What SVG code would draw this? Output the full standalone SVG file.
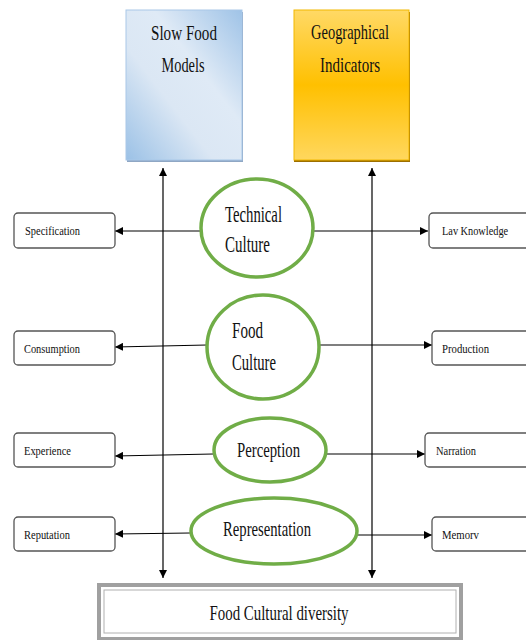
<svg xmlns="http://www.w3.org/2000/svg" width="526" height="640" viewBox="0 0 526 640">
<defs>
<linearGradient id="gBlue" x1="0" y1="1" x2="1" y2="0">
<stop offset="0" stop-color="#9bc1e6"/>
<stop offset="0.38" stop-color="#dbe7f4"/>
<stop offset="0.62" stop-color="#dfeaf6"/>
<stop offset="1" stop-color="#9fc3e7"/>
</linearGradient>
<linearGradient id="gGold" x1="0" y1="0" x2="0" y2="1">
<stop offset="0" stop-color="#ffd966"/>
<stop offset="0.5" stop-color="#ffc000"/>
<stop offset="1" stop-color="#ffd75e"/>
</linearGradient>
<marker id="ah" viewBox="0 0 10 10" refX="10" refY="5" markerWidth="8" markerHeight="8" markerUnits="userSpaceOnUse" orient="auto">
<path d="M0,0 L10,5 L0,10 z" fill="#000"/>
</marker>
<marker id="ahs" viewBox="0 0 10 10" refX="10" refY="5" markerWidth="8" markerHeight="8" markerUnits="userSpaceOnUse" orient="auto-start-reverse">
<path d="M0,0 L10,5 L0,10 z" fill="#000"/>
</marker>
</defs>
<style>
.big{font-family:"Liberation Serif","Times New Roman",serif;font-size:22px;fill:#111}
.bg{font-size:24px}
.sm{font-family:"Liberation Serif","Times New Roman",serif;font-size:13.5px;fill:#111}
.ell{fill:#fff;stroke:#70ad47;stroke-width:3.5}
.lbl{fill:#fff;stroke:#555;stroke-width:1.3}
.cn{stroke:#000;stroke-width:1.2;fill:none}
</style>
<g id="connectors">
<line class="cn" x1="163" y1="168" x2="163" y2="578" marker-start="url(#ahs)" marker-end="url(#ah)"/>
<line class="cn" x1="372" y1="168" x2="372" y2="578" marker-start="url(#ahs)" marker-end="url(#ah)"/>
<line class="cn" x1="201" y1="231" x2="115" y2="231" marker-end="url(#ah)"/>
<line class="cn" x1="313" y1="231" x2="428" y2="231" marker-end="url(#ah)"/>
<line class="cn" x1="207" y1="345" x2="115" y2="347" marker-end="url(#ah)"/>
<line class="cn" x1="320" y1="345" x2="432" y2="345" marker-end="url(#ah)"/>
<line class="cn" x1="213" y1="454" x2="115" y2="456" marker-end="url(#ah)"/>
<line class="cn" x1="326" y1="454" x2="425" y2="454" marker-end="url(#ah)"/>
<line class="cn" x1="190" y1="533" x2="115" y2="534" marker-end="url(#ah)"/>
<line class="cn" x1="358" y1="535" x2="432" y2="535" marker-end="url(#ah)"/>
</g>
<g id="slow-food">
<rect x="127" y="12" width="116" height="150" fill="#8fa7c4"/>
<rect x="126" y="10" width="116" height="150" fill="url(#gBlue)" stroke="#a9c8e8" stroke-width="1"/>
<text class="big" x="184" y="40" text-anchor="middle" textLength="66" lengthAdjust="spacingAndGlyphs">Slow Food</text>
<text class="big" x="183" y="72" text-anchor="middle" textLength="43" lengthAdjust="spacingAndGlyphs">Models</text>
</g>
<g id="geo">
<rect x="294" y="12" width="116" height="150" fill="#9c6f00"/>
<rect x="294" y="10" width="115" height="150" fill="url(#gGold)" stroke="#f2b800" stroke-width="1"/>
<text class="big" x="350" y="39" text-anchor="middle" textLength="78" lengthAdjust="spacingAndGlyphs">Geographical</text>
<text class="big" x="350" y="72" text-anchor="middle" textLength="60" lengthAdjust="spacingAndGlyphs">Indicators</text>
</g>
<g id="technical-culture">
<ellipse class="ell" cx="257" cy="228" rx="56" ry="49"/>
<text class="big bg" x="225" y="222" textLength="57" lengthAdjust="spacingAndGlyphs">Technical</text>
<text class="big bg" x="225" y="252" textLength="45" lengthAdjust="spacingAndGlyphs">Culture</text>
</g>
<g id="food-culture">
<ellipse class="ell" cx="263" cy="347" rx="56" ry="52"/>
<text class="big bg" x="232" y="338" textLength="31" lengthAdjust="spacingAndGlyphs">Food</text>
<text class="big bg" x="232" y="370" textLength="44" lengthAdjust="spacingAndGlyphs">Culture</text>
</g>
<g id="perception">
<ellipse class="ell" cx="270" cy="450" rx="56" ry="32"/>
<text class="big" x="237" y="457" textLength="63" lengthAdjust="spacingAndGlyphs">Perception</text>
</g>
<g id="representation">
<ellipse class="ell" cx="274" cy="531" rx="83" ry="33"/>
<text class="big" x="223" y="536" textLength="88" lengthAdjust="spacingAndGlyphs">Representation</text>
</g>
<g id="specification">
<rect class="lbl" x="14" y="213" width="101" height="35" rx="4"/>
<text class="sm" x="25" y="235" textLength="55" lengthAdjust="spacingAndGlyphs">Specification</text>
</g>
<g id="consumption">
<rect class="lbl" x="14" y="331" width="101" height="34" rx="4"/>
<text class="sm" x="24" y="353" textLength="56" lengthAdjust="spacingAndGlyphs">Consumption</text>
</g>
<g id="experience">
<rect class="lbl" x="14" y="433" width="101" height="34" rx="4"/>
<text class="sm" x="24" y="455" textLength="47" lengthAdjust="spacingAndGlyphs">Experience</text>
</g>
<g id="reputation">
<rect class="lbl" x="14" y="517" width="101" height="34" rx="4"/>
<text class="sm" x="24" y="539" textLength="46" lengthAdjust="spacingAndGlyphs">Reputation</text>
</g>
<g id="lay-knowledge">
<rect class="lbl" x="429" y="213" width="110" height="35" rx="4"/>
<text class="sm" transform="translate(442,235) scale(0.765,1)" x="0" y="0">Lav Knowledge</text>
</g>
<g id="production">
<rect class="lbl" x="432" y="331" width="110" height="34" rx="4"/>
<text class="sm" x="442" y="353" textLength="47" lengthAdjust="spacingAndGlyphs">Production</text>
</g>
<g id="narration">
<rect class="lbl" x="425" y="433" width="110" height="34" rx="4"/>
<text class="sm" x="436" y="455" textLength="40" lengthAdjust="spacingAndGlyphs">Narration</text>
</g>
<g id="memory">
<rect class="lbl" x="432" y="517" width="110" height="34" rx="4"/>
<text class="sm" x="442" y="539" textLength="37" lengthAdjust="spacingAndGlyphs">Memorv</text>
</g>
<g id="food-cultural-diversity">
<rect x="99" y="585" width="362" height="54" fill="#fff" stroke="#a0a0a0" stroke-width="4"/>
<rect x="104" y="590" width="352" height="43" fill="none" stroke="#b0b0b0" stroke-width="1"/>
<text class="big" x="279" y="620" text-anchor="middle" textLength="139" lengthAdjust="spacingAndGlyphs">Food Cultural diversity</text>
</g>
</svg>
